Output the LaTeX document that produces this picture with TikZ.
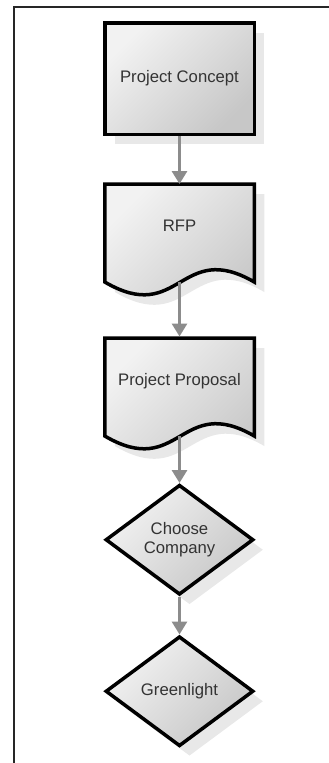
\documentclass[tikz,border=0pt]{standalone}
\usepackage{fontspec}
\setmainfont{Liberation Sans}
\usepackage{xcolor}
\usetikzlibrary{arrows.meta, shapes.geometric, shadows, positioning}
\pgfdeclarelayer{background}
\pgfsetlayers{background,main}

\begin{document}
\begin{tikzpicture}[
  x=1pt, y=-1pt,
  font=\fontsize{16.7}{19.5}\selectfont,
  node distance=46pt,
  shadowed/.style={drop shadow={shadow xshift=10pt, shadow yshift=-10pt, fill=black!9, opacity=1}},
  grayfill/.style={top color=black!5, bottom color=black!22, shading angle=45},
  stepbox/.style={
    rectangle,
    draw=black,
    line width=3.5pt,
    grayfill,
    shadowed,
    text=black!80,
    minimum width=149.5pt,
    minimum height=111.5pt
  },
  docbox/.style={
    rectangle,
    outer sep=0pt,
    text=black!80,
    text height=12pt,
    text depth=16pt,
    minimum width=149.5pt,
    minimum height=98pt
  },
  docline/.style={draw=black, line width=3.5pt, grayfill, shadowed},
  choice/.style={
    diamond,
    draw=black,
    line width=3.5pt,
    grayfill,
    shadowed,
    text=black!80,
    align=center,
    inner sep=0pt,
    minimum width=148pt,
    minimum height=110pt
  },
  arrow/.style={-{Triangle[length=13pt, width=15pt]}, draw=black!45, fill=black!45, line width=3pt}
]
\useasboundingbox (0,0) rectangle (329,763);

% Rahmen
\draw[line width=2pt, black!85] (14,763) -- (14,7) -- (329,7);

% Knoten
\node[stepbox] (concept) at (179.5,78.5) {Project Concept};
\node[docbox, below=48pt of concept] (rfp) {RFP};
\node[docbox, below=56pt of rfp] (proposal) {Project Proposal};
\node[choice, below=47pt of proposal] (choose) {Choose\\Company};
\node[choice, below=38pt of choose] (green) {Greenlight};

% Dokument-Umrisse
\begin{pgfonlayer}{background}
\path[docline] (rfp.north west) -- (rfp.south west)
  .. controls +(75,44) and +(-74,-43) .. (rfp.south east) -- (rfp.north east) -- cycle;
\path[docline] (proposal.north west) -- (proposal.south west)
  .. controls +(75,44) and +(-74,-43) .. (proposal.south east) -- (proposal.north east) -- cycle;
\end{pgfonlayer}

% Pfeile
\draw[arrow] (concept) -- (rfp);
\draw[arrow, shorten >=1.5pt] (rfp) -- (proposal);
\draw[arrow] (proposal) -- (choose);
\draw[arrow] (choose) -- (green);

\end{tikzpicture}
\end{document}
